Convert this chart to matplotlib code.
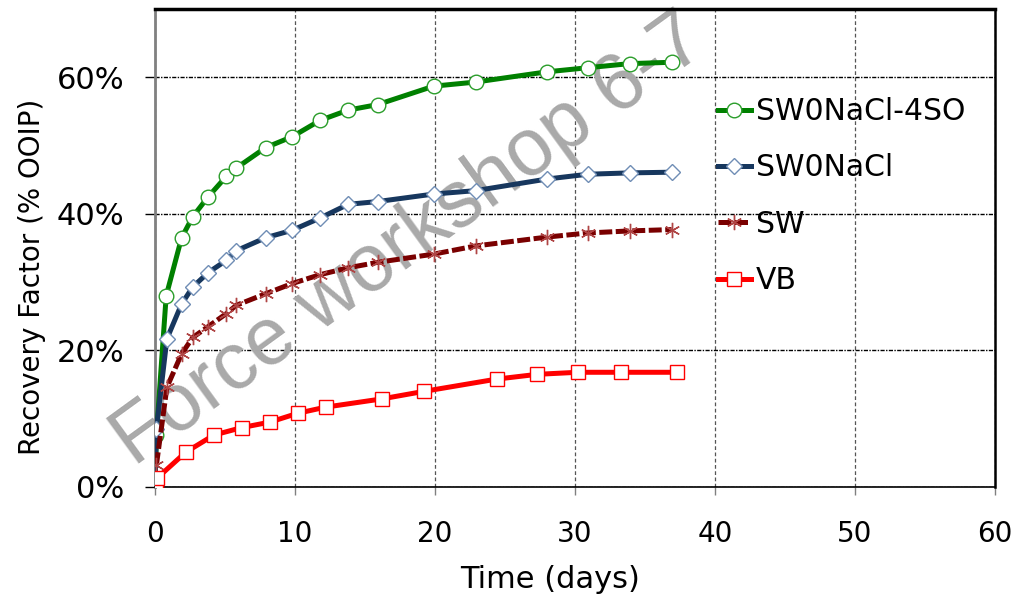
import matplotlib
matplotlib.use("Agg")
import matplotlib.pyplot as plt
from matplotlib.ticker import FuncFormatter

# ---- data (time in days, recovery factor in % OOIP) ----
t_4so = [0, 0.1, 0.8, 1.9, 2.7, 3.8, 5.1, 5.8, 7.9, 9.8, 11.8, 13.8, 15.9, 19.9, 22.9, 28.0, 30.9, 33.9, 36.9]
rf_4so = [0, 7.6, 28.0, 36.5, 39.6, 42.5, 45.5, 46.7, 49.7, 51.3, 53.7, 55.2, 56.0, 58.7, 59.3, 60.8, 61.4, 62.0, 62.2]

t_nacl = [0, 0.1, 0.85, 1.9, 2.7, 3.8, 5.1, 5.8, 7.9, 9.8, 11.8, 13.8, 15.9, 19.9, 22.9, 28.0, 30.9, 33.9, 36.9]
rf_nacl = [0, 8.5, 21.7, 26.8, 29.3, 31.4, 33.2, 34.6, 36.5, 37.6, 39.4, 41.4, 41.8, 42.9, 43.4, 45.1, 45.8, 46.0, 46.1]

t_sw = [0.1, 0.85, 1.9, 2.7, 3.8, 5.1, 5.8, 7.9, 9.8, 11.8, 13.8, 15.9, 19.9, 22.9, 28.0, 30.9, 33.9, 36.9]
rf_sw = [3.2, 14.6, 19.5, 21.9, 23.5, 25.4, 26.6, 28.3, 29.8, 31.1, 32.1, 32.9, 34.1, 35.3, 36.6, 37.2, 37.5, 37.7]

t_vb = [0.07, 0.15, 2.2, 4.2, 6.2, 8.2, 10.2, 12.2, 16.2, 19.2, 24.4, 27.3, 30.2, 33.3, 37.3]
rf_vb = [0, 1.3, 5.1, 7.6, 8.7, 9.5, 10.8, 11.7, 12.9, 14.0, 15.8, 16.5, 16.8, 16.8, 16.8]

labels = ["SW0NaCl-4SO", "SW0NaCl", "SW", "VB"]
x_ticks = [0, 10, 20, 30, 40, 50, 60]
y_ticks = [0, 20, 40, 60]

W, H = 1017, 599
fig = plt.figure(figsize=(W / 100, H / 100), dpi=100)
ax = fig.add_axes([155 / W, 1 - 487 / H, (995 - 155) / W, (487 - 9) / H])

# watermark
ax.text(134 / W, 1 - 467 / H, "Force workshop 6-7", transform=fig.transFigure,
        fontsize=58, family="Liberation Sans", color="#a9a9a9", rotation=36,
        rotation_mode="anchor", ha="left", va="baseline", zorder=1.5, clip_on=False)

ax.plot(t_4so, rf_4so, color="#008000", lw=3.6, marker="o", ms=10.5,
        mfc="white", mec="#2a9d2a", mew=1.0, label=labels[0], zorder=3)
ax.plot(t_nacl, rf_nacl, color="#17375E", lw=3.6, marker="D", ms=8.5,
        mfc="white", mec="#6f8db5", mew=1.0, label=labels[1], zorder=3)
ax.plot(t_sw, rf_sw, color="#7a0000", lw=3.6, marker=(6, 2, 0), ms=11,
        mfc="white", mec="#b04545", mew=1.0, dashes=(2.6, 0.7), label=labels[2], zorder=3)
ax.plot(t_vb, rf_vb, color="#ff0000", lw=3.6, marker="s", ms=9.5,
        mfc="white", mec="#ff0000", mew=1.0, label=labels[3], zorder=3)

ax.set_xlim(0, 60)
ax.set_ylim(0, 70)
ax.set_xticks(x_ticks)
ax.set_yticks(y_ticks)
ax.yaxis.set_major_formatter(FuncFormatter(lambda v, p: f"{v:.0f}%"))

# grid
ax.yaxis.grid(True, color="black", lw=1.0, linestyle=(0, (3, 1, 1, 1)))
ax.xaxis.grid(True, color="#555555", lw=0.9, linestyle=(0, (3, 2)))
ax.set_axisbelow(True)

ax.tick_params(axis="y", direction="out", length=7, width=1, color="black",
               pad=15, labelsize=22)
ax.tick_params(axis="x", direction="out", length=6, width=1, color="#808080",
               pad=18, labelsize=20)

ax.spines["left"].set_color("#808080")
ax.spines["left"].set_linewidth(2)
ax.spines["top"].set_linewidth(2.5)
ax.spines["right"].set_linewidth(1.8)
ax.spines["bottom"].set_linewidth(1.2)

fig.text(32 / W, 1 - 277 / H, "Recovery Factor (% OOIP)", rotation=90,
         ha="center", va="center", fontsize=20)
fig.text(550 / W, 1 - 580 / H, "Time (days)", ha="center", va="center", fontsize=22)

leg = ax.legend(loc="upper left", bbox_to_anchor=(718 / W, 1 - 97 / H),
                bbox_transform=fig.transFigure, frameon=False, fontsize=21.5,
                handlelength=1.1, handletextpad=0.17, labelspacing=0.92,
                borderpad=0, borderaxespad=0, numpoints=1)

fig.savefig("out.png", dpi=100)
